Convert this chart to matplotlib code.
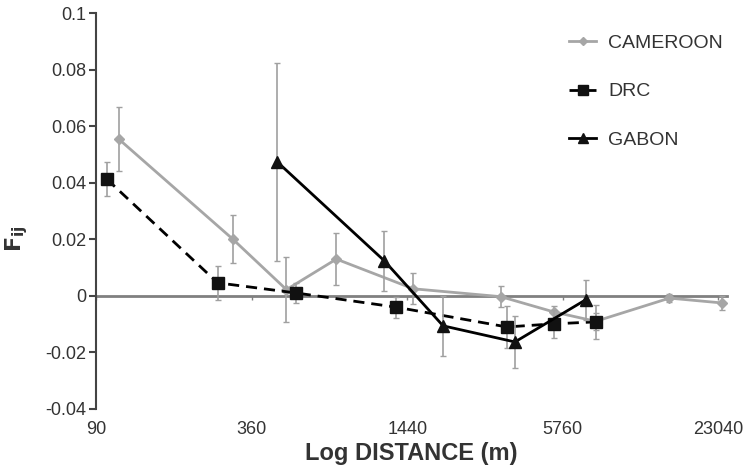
import numpy as np
import matplotlib.pyplot as plt
from matplotlib.lines import Line2D
from matplotlib.ticker import FixedLocator, NullLocator

plt.rcParams['font.family'] = ['Liberation Sans', 'DejaVu Sans']

# distance classes (m)
cam_x = [110, 304, 491, 766, 1520, 3320, 5320, 7720, 14900, 23700]
cam_y = [0.0555, 0.0201, 0.0022, 0.0130, 0.0025, -0.0003, -0.0057, -0.0090, -0.0008, -0.0025]
cam_err = [0.0113, 0.0085, 0.0115, 0.0093, 0.0055, 0.0038, 0.0020, 0.0030, 0.0015, 0.0025]

drc_x = [99, 266, 537, 1305, 3500, 5320, 7720]
drc_y = [0.0413, 0.0046, 0.0010, -0.0040, -0.0110, -0.0099, -0.0092]
drc_err = [0.0060, 0.0060, 0.0035, 0.0037, 0.0075, 0.0050, 0.0060]

gab_x = [453, 1174, 1982, 3760, 7060]
gab_y = [0.0473, 0.0124, -0.0106, -0.0163, -0.0014]
gab_err = [0.0350, 0.0107, 0.0105, 0.0093, 0.0070]

xticks = [90, 360, 1440, 5760, 23040]
yticks = [-0.04, -0.02, 0, 0.02, 0.04, 0.06, 0.08, 0.1]
ytick_labels = ['-0.04', '-0.02', '0', '0.02', '0.04', '0.06', '0.08', '0.1']

grey = '#a6a6a6'
errc = '#a0a0a0'
txt = '#333333'
dash = (0, (4, 2.5))

fig = plt.figure(figsize=(7.46, 4.75), dpi=100)
ax = fig.add_axes([0.1287, 0.139, 0.846, 0.8336])

err_kw = dict(ecolor=errc, elinewidth=1.2, capsize=2, capthick=1)

ax.errorbar(cam_x, cam_y, yerr=cam_err, color=grey, lw=2, marker='D', ms=5,
            mfc=grey, mec=grey, zorder=3, **err_kw)
ax.errorbar(drc_x, drc_y, yerr=drc_err, color='black', lw=2, ls=dash,
            marker='s', ms=8, mfc='#111111', mec='#111111', zorder=4, **err_kw)
ax.errorbar(gab_x, gab_y, yerr=gab_err, color='black', lw=2, marker='^', ms=8,
            mfc='#111111', mec='#111111', zorder=5, **err_kw)

ax.set_xscale('log')
ax.set_xlim(90, 24900)
ax.set_ylim(-0.04, 0.1)

ax.xaxis.set_major_locator(FixedLocator(xticks))
ax.xaxis.set_minor_locator(NullLocator())
ax.set_xticklabels([str(t) for t in xticks])
ax.set_yticks(yticks)
ax.set_yticklabels(ytick_labels)

for s in ['top', 'right']:
    ax.spines[s].set_visible(False)
ax.spines['left'].set_color('#444444')
ax.spines['left'].set_linewidth(1.5)
# Excel-style horizontal axis crossing at zero
ax.spines['bottom'].set_position(('data', 0))
ax.spines['bottom'].set_color('#808080')
ax.spines['bottom'].set_linewidth(2)
ax.spines['bottom'].set_zorder(2)

ax.tick_params(axis='y', direction='out', length=5, width=1.5, color='#444444',
               labelsize=13, labelcolor=txt, pad=2)
ax.tick_params(axis='x', direction='out', length=3, width=1, color='#808080',
               labelsize=13, labelcolor=txt, pad=87)

ax.set_xlabel('Log DISTANCE (m)', fontsize=17, fontweight='bold', color=txt, labelpad=3)
ax.set_ylabel(r'$\mathbf{F_{ij}}$', fontsize=16, color=txt)
ax.yaxis.set_label_coords(-0.104, 0.43)

handles = [
    Line2D([], [], color=grey, lw=2, marker='D', ms=4, mfc=grey, mec=grey),
    Line2D([], [], color='black', lw=2, ls=dash, marker='s', ms=7, mfc='#111111', mec='#111111'),
    Line2D([], [], color='black', lw=2, marker='^', ms=7, mfc='#111111', mec='#111111'),
]
ax.legend(handles, ['CAMEROON', 'DRC', 'GABON'], loc='upper left',
          bbox_to_anchor=(569 / 746, 1 - 34 / 475), bbox_transform=fig.transFigure,
          frameon=False, fontsize=14, labelspacing=1.6, handlelength=1.4,
          handletextpad=0.6, borderpad=0, borderaxespad=0, labelcolor=txt)

fig.savefig('out.png', dpi=100)
